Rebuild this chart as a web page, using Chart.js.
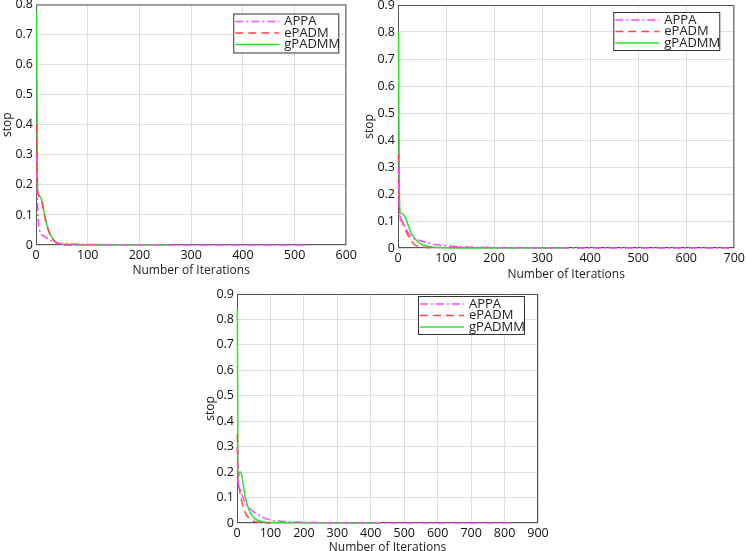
<!DOCTYPE html>
<html>
<head>
<meta charset="utf-8">
<script src="https://cdn.jsdelivr.net/npm/chart.js@4.4.0/dist/chart.umd.min.js"></script>
<style>
  body { margin: 0; background: #fff; width: 748px; height: 551px; position: relative; overflow: hidden; }
  .box { position: absolute; }
</style>
</head>
<body>
<div class="box" id="b1" style="left:0px;top:-6px;width:360px;height:286px"><canvas id="c1"></canvas></div>
<div class="box" id="b2" style="left:362px;top:-6px;width:386px;height:290px"><canvas id="c2"></canvas></div>
<div class="box" id="b3" style="left:190px;top:272px;width:370px;height:285px"><canvas id="c3"></canvas></div>
<script>
var seriesNames = [ "APPA", "ePADM", "gPADMM" ];
var xMax = [ 600, 700, 900 ];
var yMax = [ 0.8, 0.9, 0.9 ];

// panel 1
var appaIter1 = [ 1, 2, 3, 5, 8, 10, 15, 20, 30, 40, 60, 80, 100, 150, 250, 525 ];
var appaStop1 = [ 0.3, 0.2, 0.13, 0.07, 0.042, 0.035, 0.03, 0.024, 0.013, 0.007, 0.004, 0.003, 0.002, 0.001, 0.0004, 0 ];
var epadmIter1 = [ 1, 2, 3, 5, 8, 11, 14, 17, 20, 24, 28, 32, 36, 40, 46, 55, 65, 80 ];
var epadmStop1 = [ 0.4, 0.3, 0.19, 0.165, 0.158, 0.148, 0.122, 0.092, 0.072, 0.048, 0.032, 0.02, 0.012, 0.007, 0.003, 0.001, 0.0003, 0 ];
var gpadmmIter1 = [ 1, 2, 3, 5, 8, 11, 14, 17, 20, 24, 28, 32, 36, 40, 46, 55, 70, 100, 265 ];
var gpadmmStop1 = [ 0.78, 0.5, 0.19, 0.166, 0.16, 0.15, 0.125, 0.095, 0.075, 0.05, 0.035, 0.022, 0.014, 0.009, 0.005, 0.002, 0.0008, 0.0002, 0 ];

// panel 2
var appaIter2 = [ 1, 2, 4, 8, 13, 20, 30, 45, 60, 80, 100, 130, 160, 220, 350, 690 ];
var appaStop2 = [ 0.3, 0.18, 0.12, 0.1, 0.085, 0.06, 0.04, 0.028, 0.02, 0.012, 0.008, 0.005, 0.003, 0.001, 0.0003, 0 ];
var epadmIter2 = [ 1, 2, 4, 8, 12, 20, 28, 35, 45, 60, 75 ];
var epadmStop2 = [ 0.35, 0.2, 0.11, 0.1, 0.08, 0.05, 0.025, 0.012, 0.006, 0.002, 0 ];
var gpadmmIter2 = [ 1, 2, 3, 5, 8, 12, 16, 20, 25, 30, 35, 40, 50, 60, 75, 100, 150, 355 ];
var gpadmmStop2 = [ 0.8, 0.45, 0.2, 0.13, 0.128, 0.122, 0.11, 0.09, 0.065, 0.048, 0.035, 0.025, 0.013, 0.007, 0.003, 0.001, 0.0003, 0 ];

// panel 3
var appaIter3 = [ 1, 3, 8, 15, 25, 40, 60, 80, 100, 130, 170, 220, 300, 825 ];
var appaStop3 = [ 0.3, 0.17, 0.14, 0.11, 0.08, 0.055, 0.035, 0.02, 0.012, 0.007, 0.004, 0.002, 0.001, 0 ];
var epadmIter3 = [ 1, 3, 6, 10, 17, 25, 35, 45, 60, 80, 100 ];
var epadmStop3 = [ 0.35, 0.16, 0.14, 0.11, 0.07, 0.04, 0.02, 0.01, 0.004, 0.001, 0 ];
var gpadmmIter3 = [ 1, 2, 3, 5, 8, 11, 15, 20, 25, 30, 35, 40, 50, 60, 70, 85, 100, 130, 430 ];
var gpadmmStop3 = [ 0.84, 0.5, 0.18, 0.185, 0.2, 0.2, 0.18, 0.14, 0.1, 0.075, 0.055, 0.04, 0.022, 0.012, 0.007, 0.003, 0.0015, 0.0005, 0 ];

var seriesColors = [ "rgb(255,70,255)", "rgb(255,70,70)", "rgb(40,230,40)" ];
var seriesDash = [ [ 8, 3, 2, 3 ], [ 8, 5 ], [] ];

var panels = [
	{ id : "c1", iters : [ appaIter1, epadmIter1, gpadmmIter1 ], stops : [ appaStop1, epadmStop1, gpadmmStop1 ],
	  pad : { left : 0, right : 11, top : 10, bottom : 0 }, yW : 36, xH : 35, leg : { r : 8, t : 9, w : 105, h : 39 } },
	{ id : "c2", iters : [ appaIter2, epadmIter2, gpadmmIter2 ], stops : [ appaStop2, epadmStop2, gpadmmStop2 ],
	  pad : { left : 0, right : 11, top : 11, bottom : 0 }, yW : 36, xH : 36, leg : { r : 15, t : 7, w : 106, h : 38 } },
	{ id : "c3", iters : [ appaIter3, epadmIter3, gpadmmIter3 ], stops : [ appaStop3, epadmStop3, gpadmmStop3 ],
	  pad : { left : 13, right : 22, top : 22, bottom : 0 }, yW : 34, xH : 34, leg : { r : 14, t : 2, w : 106, h : 38 } }
];

var fontFam = "'Open Sans', 'DejaVu Sans', sans-serif";

// axes frame goes under the curves, legend box on top
var frameLegend = {
	id : "frameLegend",
	beforeDatasetsDraw : function(chart) {
		var a = chart.chartArea, ctx = chart.ctx;
		ctx.save();
		ctx.strokeStyle = "#555";
		ctx.lineWidth = 1;
		ctx.strokeRect(a.left + 0.5, a.top + 0.5, a.right - a.left - 1, a.bottom - a.top - 1);
		ctx.restore();
	},
	afterDatasetsDraw : function(chart, args, opts) {
		var a = chart.chartArea, ctx = chart.ctx;
		ctx.save();
		var L = opts.leg;
		var bx = a.right - L.r - L.w, by = a.top + L.t;
		ctx.fillStyle = "#fff";
		ctx.fillRect(bx, by, L.w, L.h);
		ctx.strokeStyle = "#333";
		ctx.lineWidth = 1;
		ctx.strokeRect(bx + 0.5, by + 0.5, L.w, L.h);
		ctx.font = "13px " + fontFam;
		ctx.textBaseline = "middle";
		var rows = [ 8, 19.5, 31 ];
		chart.data.datasets.forEach(function(ds, i) {
			var yy = by + rows[i];
			ctx.strokeStyle = ds.borderColor;
			ctx.lineWidth = 1.5;
			ctx.setLineDash(ds.borderDash);
			ctx.beginPath();
			ctx.moveTo(bx + 2, yy);
			ctx.lineTo(bx + 46, yy);
			ctx.stroke();
			ctx.setLineDash([]);
			ctx.fillStyle = "#222";
			ctx.fillText(ds.label, bx + 51, yy);
		});
		ctx.restore();
	}
};

window.onload = function() {
	panels.forEach(function(p, k) {
		var datasets = seriesNames.map(function(name, i) {
			return {
				label : name,
				data : p.iters[i].map(function(x, j) { return { x : x, y : p.stops[i][j] }; }),
				borderColor : seriesColors[i],
				borderDash : seriesDash[i],
				borderWidth : 1.5,
				pointRadius : 0,
				cubicInterpolationMode : "monotone",
				clip : 2,
				fill : false
			};
		});
		var ctx = document.getElementById(p.id).getContext("2d");
		new Chart(ctx, {
			type : "line",
			data : { datasets : datasets },
			plugins : [ frameLegend ],
			options : {
				responsive : true,
				maintainAspectRatio : false,
				animation : false,
				layout : { padding : p.pad },
				plugins : {
					legend : { display : false },
					tooltip : { enabled : false },
					frameLegend : { leg : p.leg }
				},
				scales : {
					x : {
						type : "linear",
						min : 0,
						max : xMax[k],
						afterFit : function(s) { s.height = p.xH; },
						ticks : { stepSize : 100, color : "#111", padding : 3, maxRotation : 0, font : { size : 12.5, family : fontFam } },
						grid : { color : "#dddddd", drawTicks : false },
						border : { display : false },
						title : { display : true, text : "Number of Iterations", color : "#222", padding : { top : 0, bottom : 2 }, font : { size : 12, family : fontFam } }
					},
					y : {
						min : 0,
						max : yMax[k],
						afterFit : function(s) { s.width = p.yW; },
						ticks : { stepSize : 0.1, color : "#111", padding : 3, font : { size : 12.5, family : fontFam } },
						grid : { color : "#dddddd", drawTicks : false },
						border : { display : false },
						title : { display : true, text : "stop", color : "#222", padding : 0, font : { size : 12, family : fontFam } }
					}
				}
			}
		});
	});
};
</script>
</body>
</html>
